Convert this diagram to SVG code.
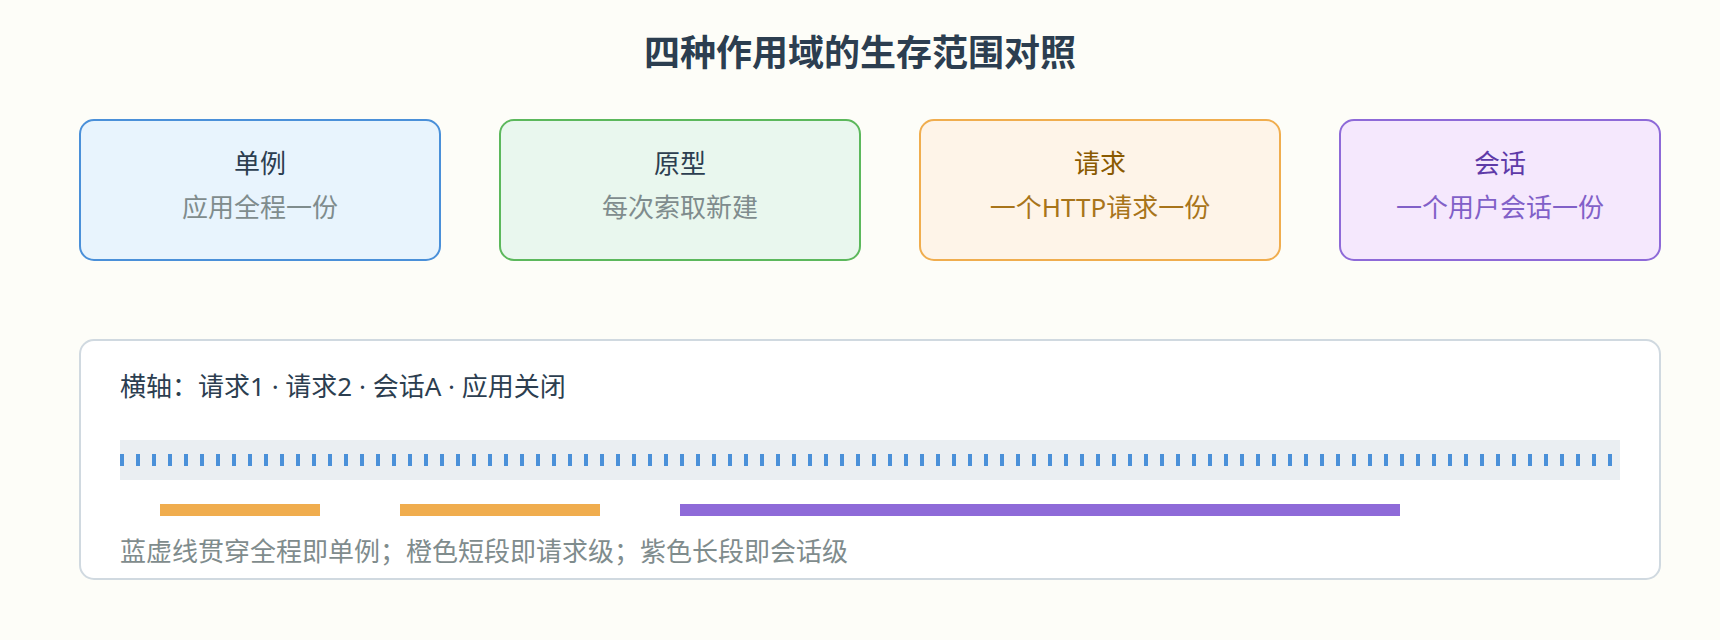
<svg xmlns="http://www.w3.org/2000/svg" width="1720" height="640" viewBox="0 0 1720 640">
  <style>
    text { font-family: "Noto Sans", "Noto Sans CJK SC", "Liberation Sans", sans-serif; }
    .title { font-size: 36px; font-weight: 700; fill: #2c3e50; text-anchor: middle; }
    .box { stroke-width: 2; }
    .name { font-size: 26px; text-anchor: middle; fill: #2c3e50; }
    .sub { font-size: 26px; text-anchor: middle; fill: #7f8c8d; }
    .label { font-size: 26px; fill: #2c3e50; }
    .note { font-size: 26px; fill: #7f8c8d; }
  </style>
  <rect x="0" y="0" width="1720" height="640" fill="#fdfdf8"/>
  <text class="title" x="860" y="66">四种作用域的生存范围对照</text>

  <g id="singleton">
    <rect class="box" x="80" y="120" width="360" height="140" rx="14" fill="#e8f4fd" stroke="#4a90d9"/>
    <text class="name" x="260" y="173">单例</text>
    <text class="sub" x="260" y="217">应用全程一份</text>
  </g>
  <g id="prototype">
    <rect class="box" x="500" y="120" width="360" height="140" rx="14" fill="#e9f7ee" stroke="#5cb85c"/>
    <text class="name" x="680" y="173">原型</text>
    <text class="sub" x="680" y="217">每次索取新建</text>
  </g>
  <g id="request">
    <rect class="box" x="920" y="120" width="360" height="140" rx="14" fill="#fef4e8" stroke="#f0ad4e"/>
    <text class="name" x="1100" y="173" style="fill:#8a5a00">请求</text>
    <text class="sub" x="1100" y="217" style="fill:#a8741a">一个HTTP请求一份</text>
  </g>
  <g id="session">
    <rect class="box" x="1340" y="120" width="320" height="140" rx="14" fill="#f5e8fd" stroke="#8e6ad8"/>
    <text class="name" x="1500" y="173" style="fill:#5e3aa8">会话</text>
    <text class="sub" x="1500" y="217" style="fill:#8160c8">一个用户会话一份</text>
  </g>

  <g id="timeline">
    <rect x="80" y="340" width="1580" height="239" rx="14" fill="#ffffff" stroke="#d0d9e0" stroke-width="2"/>
    <text class="label" x="120" y="396">横轴：请求1 · 请求2 · 会话A · 应用关闭</text>
    <rect x="120" y="440" width="1500" height="40" fill="#eaeef2"/>
    <line x1="120" y1="460" x2="1620" y2="460" stroke="#4a90d9" stroke-width="12" stroke-dasharray="4 12"/>
    <rect x="160" y="504" width="160" height="12" fill="#f0ad4e"/>
    <rect x="400" y="504" width="200" height="12" fill="#f0ad4e"/>
    <rect x="680" y="504" width="720" height="12" fill="#8e6ad8"/>
    <text class="note" x="120" y="561">蓝虚线贯穿全程即单例；橙色短段即请求级；紫色长段即会话级</text>
  </g>
  <g id="connectors"/>
</svg>
